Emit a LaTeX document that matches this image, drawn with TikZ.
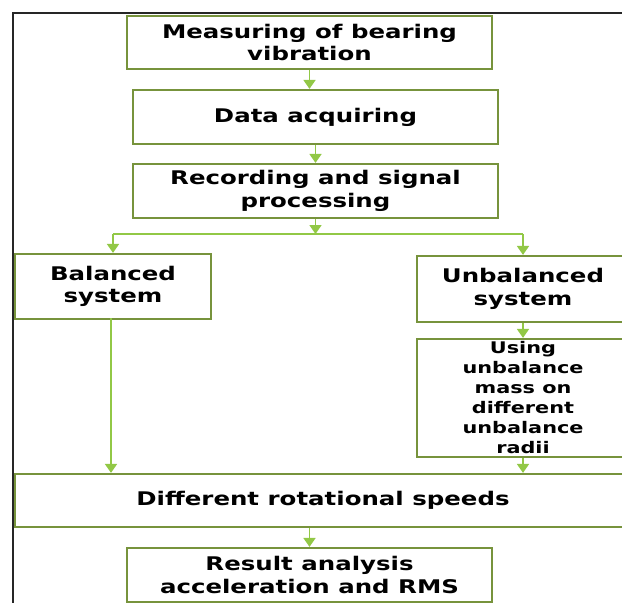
\documentclass[tikz,border=0pt]{standalone}
\usepackage{fontspec}
\usetikzlibrary{arrows.meta}
\newfontfamily\dfont{DejaVu Sans Bold}[FakeStretch=1.3]
\definecolor{boxgreen}{RGB}{119,147,60}
\definecolor{arrgreen}{RGB}{146,200,70}
\begin{document}
\begin{tikzpicture}[x=1pt,y=-1pt,
  box/.style={draw=boxgreen,line width=2.2pt,fill=white,rectangle,align=center,inner sep=0pt,
    font=\dfont\fontsize{18.8}{22.5}\selectfont},
  smallbox/.style={box,font=\dfont\fontsize{16}{20}\selectfont},
  link/.style={draw=arrgreen,line width=1.8pt},
  arr/.style={link,-{Triangle[width=12pt,length=9pt]}}]
\useasboundingbox (0,0) rectangle (622,603);
\clip (0,0) rectangle (622,603);
% outer frame
\coordinate (ftl) at (13,12.5);
\coordinate (ftr) at (625,12.5);
\coordinate (fbl) at (13,606);
\draw[black!85,line width=2pt] (ftr) -- (ftl) -- (fbl);
% boxes
\node[box,minimum width=365pt,minimum height=53pt] (b1) at (309.5,42.5) {Measuring of bearing\\vibration};
\node[box,minimum width=365pt,minimum height=54pt] (b2) at (315.5,117) {Data acquiring};
\node[box,minimum width=365pt,minimum height=54pt] (b3) at (315.5,191) {Recording and signal\\processing};
\node[box,minimum width=196pt,minimum height=65pt] (bal) at (113,286.5) {Balanced\\system};
\node[box,minimum width=212pt,minimum height=66pt] (unb) at (523,289) {Unbalanced\\system};
\node[smallbox,minimum width=212pt,minimum height=118pt] (use) at (523,398) {Using\\unbalance\\mass on\\different\\unbalance\\radii};
\node[box,minimum width=616pt,minimum height=53pt] (spd) at (323,500.5) {Different rotational speeds};
\node[box,minimum width=365pt,minimum height=54pt] (res) at (309.5,575) {Result analysis\\acceleration and RMS};
% connectors
\coordinate (br) at (315.5,234);
\draw[arr] (b1.south) -- (b1.south |- b2.north);
\draw[arr] (b2.south) -- (b3.north);
\draw[arr] (b3.south) -- (br);
\draw[link] (bal.north |- br) -- (unb.north |- br);
\draw[arr] (bal.north |- br) -- (bal.north);
\draw[arr] (unb.north |- br) -- (unb.north);
\draw[arr] (unb.south) -- (use.north);
\draw[arr] (use.south) -- (use.south |- spd.north);
\draw[arr] ([xshift=-2pt,yshift=2pt]bal.south) -- ([xshift=-2pt]bal.south |- spd.north);
\draw[arr] (res.north |- spd.south) -- (res.north);
\end{tikzpicture}
\end{document}
